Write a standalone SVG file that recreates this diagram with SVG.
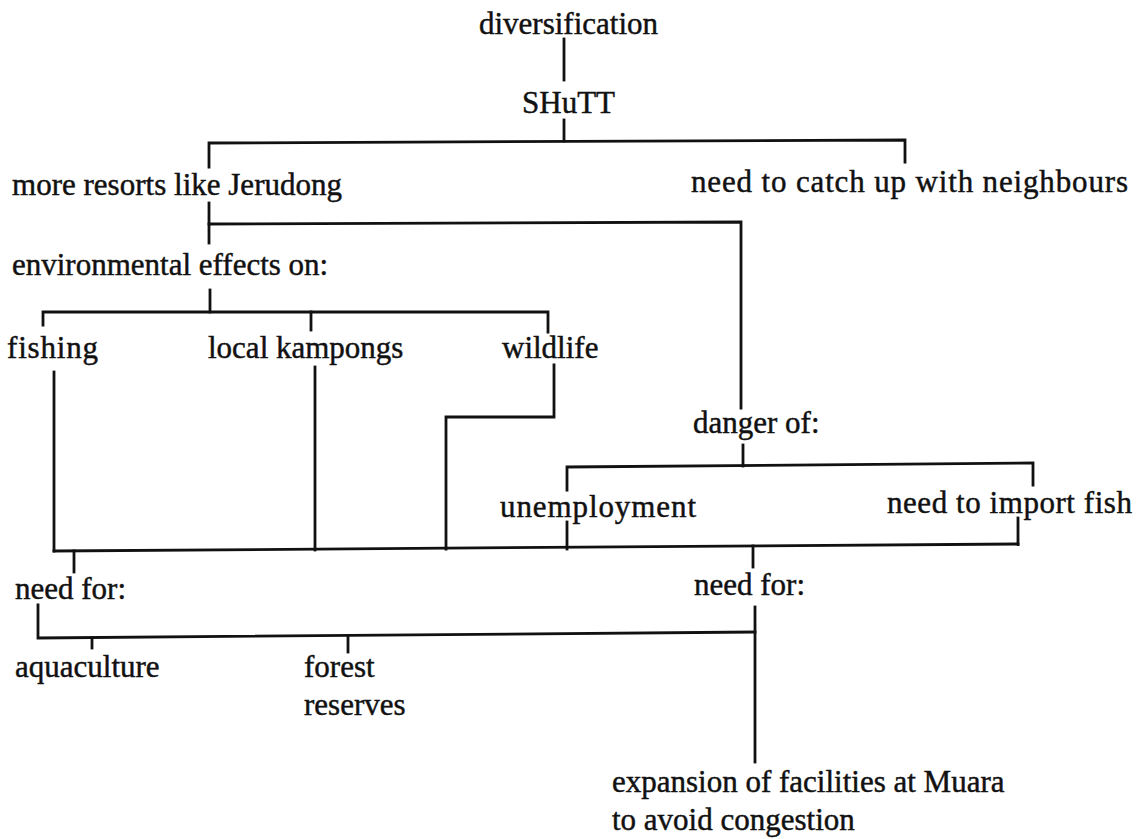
<svg xmlns="http://www.w3.org/2000/svg" width="1138" height="839" viewBox="0 0 1138 839">
  <style>
    .lbl { font-family: "Liberation Serif", "Times New Roman", serif; font-size: 31px; fill: #111; stroke: #111; stroke-width: 0.45; }
    .ln { fill: none; stroke: #111; stroke-width: 2.8; stroke-linecap: square; stroke-linejoin: miter; }
  </style>
  <rect width="1138" height="839" fill="#fff"/>

  <!-- tree connectors -->
  <g id="connectors" class="ln">
    <path d="M564,39 V80"/>
    <path d="M564,120 V141"/>
    <path d="M209,167 V143 L905,140 V162"/>
    <path d="M209,203 V243"/>
    <path d="M209,224 L741,222 V408"/>
    <path d="M210,290 V312"/>
    <path d="M43,325 V312 H548 V332"/>
    <path d="M311,312 V330"/>
    <path d="M54,372 V551"/>
    <path d="M315,367 V550"/>
    <path d="M554,365 V417 H446 V549"/>
    <path d="M743,445 V466"/>
    <path d="M567,490 V467 L1033,463 V485"/>
    <path d="M567,522 V549"/>
    <path d="M1018,518 V544"/>
    <path d="M54,551 L1018,544"/>
    <path d="M74,551 V572"/>
    <path d="M753,546 V567"/>
    <path d="M38,605 V638 L755,632"/>
    <path d="M92,638 V648"/>
    <path d="M348,637 V652"/>
    <path d="M755,607 V762"/>
  </g>

  <g id="n-diversification"><text class="lbl" x="479" y="34">diversification</text></g>
  <g id="n-shutt"><text class="lbl" x="522" y="113">SHuTT</text></g>
  <g id="n-resorts"><text class="lbl" x="12" y="195" textLength="330">more resorts like Jerudong</text></g>
  <g id="n-neighbours"><text class="lbl" x="691" y="192" textLength="437">need to catch up with neighbours</text></g>
  <g id="n-environment"><text class="lbl" x="12" y="275">environmental effects on:</text></g>
  <g id="n-fishing"><text class="lbl" x="7" y="358" textLength="91">fishing</text></g>
  <g id="n-kampongs"><text class="lbl" x="208" y="358">local kampongs</text></g>
  <g id="n-wildlife"><text class="lbl" x="502" y="358">wildlife</text></g>
  <g id="n-danger"><text class="lbl" x="693" y="433">danger of:</text></g>
  <g id="n-unemployment"><text class="lbl" x="500" y="517" textLength="196">unemployment</text></g>
  <g id="n-import"><text class="lbl" x="887" y="513" textLength="245">need to import fish</text></g>
  <g id="n-needfor-left"><text class="lbl" x="15" y="599">need for:</text></g>
  <g id="n-needfor-right"><text class="lbl" x="694" y="595">need for:</text></g>
  <g id="n-aquaculture"><text class="lbl" x="15" y="677">aquaculture</text></g>
  <g id="n-forest"><text class="lbl" x="304" y="677">forest</text><text class="lbl" x="304" y="715">reserves</text></g>
  <g id="n-muara"><text class="lbl" x="612" y="792">expansion of facilities at Muara</text><text class="lbl" x="612" y="830">to avoid congestion</text></g>
</svg>
